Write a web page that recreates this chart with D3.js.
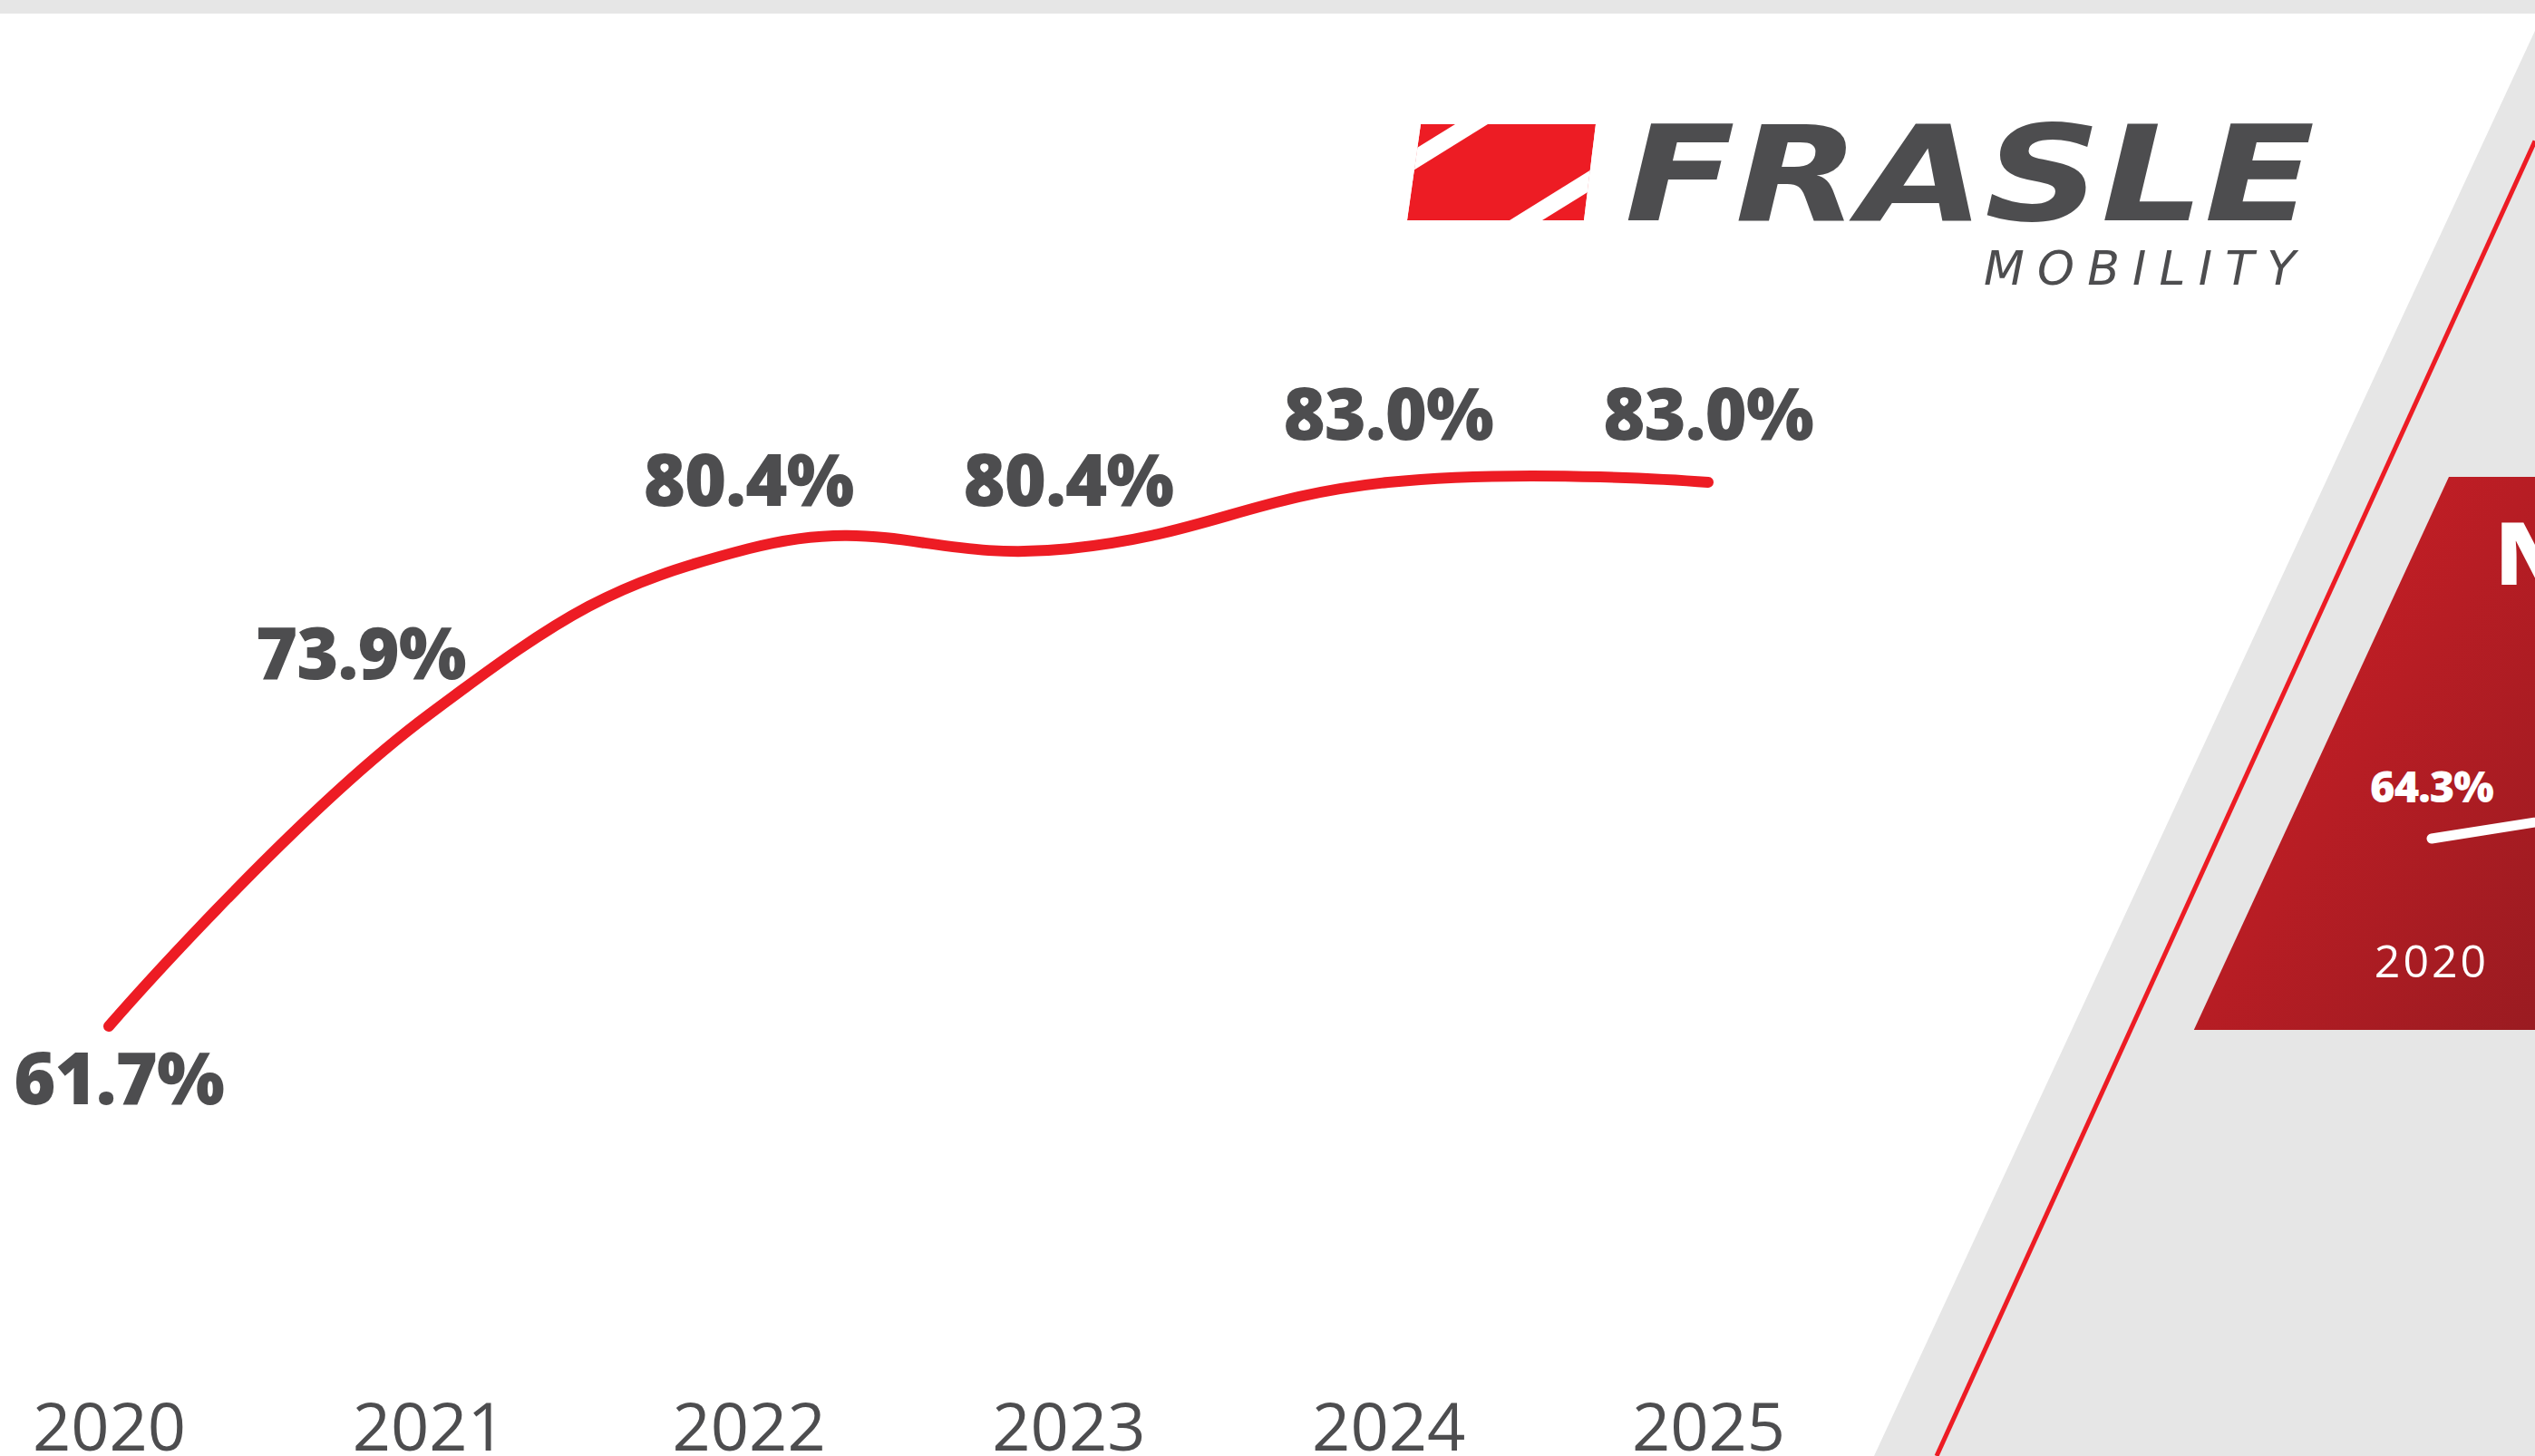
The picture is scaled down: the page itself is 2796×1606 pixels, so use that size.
<!DOCTYPE html>
<html lang="pt">
<head>
<meta charset="utf-8">
<script src="https://d3js.org/d3.v7.min.js"></script>
<style>
  * { margin: 0; padding: 0; }
  body { width: 2796px; height: 1606px; overflow: hidden; background: #fff; }
  svg { display: block; }
</style>
</head>
<body>
<script>
// main series
const years = [2020, 2021, 2022, 2023, 2024, 2025];
const values = [61.7, 73.9, 80.4, 80.4, 83.0, 83.0];

// second (cut off) panel on the right: only its first year is visible
const miniYears = [2020, 2021];
const miniValues = [64.3, 67.0];

const W = 2796, H = 1606;
const grey = '#e6e6e6', red = '#ed1c24', ink = '#4d4d4f';

const svg = d3.select('body').append('svg')
  .attr('width', W).attr('height', H);

const defs = svg.append('defs');
const grad = defs.append('linearGradient').attr('id', 'panelGrad')
  .attr('x1', '0%').attr('y1', '0%').attr('x2', '100%').attr('y2', '100%');
grad.append('stop').attr('offset', '0%').attr('stop-color', '#d41f27');
grad.append('stop').attr('offset', '100%').attr('stop-color', '#9a1b21');

svg.append('rect').attr('width', W).attr('height', H).attr('fill', '#fff');
svg.append('rect').attr('width', W).attr('height', 15).attr('fill', grey);

// diagonal grey band on the right
const slant = 0.4637;
const edgeX = y => 2067 + (H - y) * slant;
svg.append('polygon')
  .attr('points', [[edgeX(34), 34], [W, 34], [W, H], [edgeX(H), H]].join(' '))
  .attr('fill', grey);

svg.append('line')
  .attr('x1', 2136).attr('y1', H)
  .attr('x2', W).attr('y2', H - (W - 2136) / 0.455)
  .attr('stroke', red).attr('stroke-width', 5);

// red panel
const pTop = 526, pBot = 1136;
svg.append('polygon')
  .attr('points', [[2701, pTop], [W, pTop], [W, pBot], [2701 - (pBot - pTop) * 0.461, pBot]].join(' '))
  .attr('fill', 'url(#panelGrad)');

svg.append('text')
  .attr('x', 2752).attr('y', 645)
  .attr('font-family', 'Open Sans').attr('font-weight', 800).attr('font-size', 95)
  .attr('fill', '#fff').text('N');

// mini chart inside the red panel
const mx = d3.scaleLinear().domain([2020, 2021]).range([2682, 2942]);
const my = d3.scaleLinear().domain([64.3, 67.0]).range([925, 884]);
svg.append('path')
  .datum(miniValues)
  .attr('d', d3.line().x((d, i) => mx(miniYears[i])).y(d => my(d)))
  .attr('fill', 'none').attr('stroke', '#fff').attr('stroke-width', 11)
  .attr('stroke-linecap', 'round');
svg.append('text')
  .attr('x', mx(miniYears[0])).attr('y', my(miniValues[0]) - 40)
  .attr('text-anchor', 'middle')
  .attr('font-family', 'Open Sans').attr('font-weight', 800).attr('font-size', 47)
  .attr('letter-spacing', -1)
  .attr('fill', '#fff').text(miniValues[0].toFixed(1) + '%');
svg.append('text')
  .attr('x', mx(miniYears[0])).attr('y', 1078)
  .attr('text-anchor', 'middle')
  .attr('font-family', 'Open Sans').attr('font-size', 50)
  .attr('letter-spacing', 3)
  .attr('fill', '#fff').text(miniYears[0]);

// logo
const logo = svg.append('g');
const markPts = [[1567, 137], [1760, 137], [1747, 243], [1552, 243]];
defs.append('clipPath').attr('id', 'markClip')
  .append('polygon').attr('points', markPts.join(' '));
const mark = logo.append('g').attr('clip-path', 'url(#markClip)');
mark.append('polygon').attr('points', markPts.join(' ')).attr('fill', red);
const s = 0.62;
const gap = (x0, y0, w) => {
  const up = 160 / s;
  return [[x0 - 100 / s, y0 + 100], [x0 - 100 / s + w, y0 + 100], [x0 + up + w, y0 - 160], [x0 + up, y0 - 160]].join(' ');
};
mark.append('polygon').attr('points', gap(1605, 137, 36)).attr('fill', '#fff');
mark.append('polygon').attr('points', gap(1665, 243, 36)).attr('fill', '#fff');

logo.append('text')
  .attr('x', 1792).attr('y', 243)
  .attr('font-family', 'DejaVu Sans').attr('font-weight', 'bold').attr('font-style', 'italic')
  .attr('font-size', 146)
  .attr('textLength', 761).attr('lengthAdjust', 'spacingAndGlyphs')
  .attr('fill', ink).text('FRASLE');
logo.append('text')
  .attr('x', 2188).attr('y', 314)
  .attr('font-family', 'DejaVu Sans').attr('font-style', 'italic')
  .attr('font-size', 52)
  .attr('textLength', 344).attr('lengthAdjust', 'spacing')
  .attr('fill', ink).text('MOBILITY');

// main chart
const x = d3.scalePoint().domain(years).range([120, 1884]);
const y = d3.scaleLinear().domain(d3.extent(values)).range([1132, 532]);

svg.append('path')
  .datum(values)
  .attr('d', d3.line()
    .x((d, i) => x(years[i]))
    .y(d => y(d))
    .curve(d3.curveCardinal.tension(-0.3)))
  .attr('fill', 'none').attr('stroke', red).attr('stroke-width', 12)
  .attr('stroke-linecap', 'round');

// label placement: first one under the point, 2021 nudged left off the line
const labelOffset = [[11, 86], [-75, -39], [0, -47], [0, -47], [0, -47], [0, -47]];
svg.append('g').selectAll('text')
  .data(values)
  .join('text')
  .attr('x', (d, i) => x(years[i]) + labelOffset[i][0])
  .attr('y', (d, i) => y(d) + labelOffset[i][1])
  .attr('text-anchor', 'middle')
  .attr('font-family', 'Open Sans').attr('font-weight', 800).attr('font-size', 79)
  .attr('letter-spacing', -1)
  .attr('fill', ink)
  .text(d => d.toFixed(1) + '%');

const xAxis = svg.append('g')
  .attr('transform', 'translate(0,1544)')
  .call(d3.axisBottom(x).tickSize(0).tickPadding(3));
xAxis.select('.domain').remove();
xAxis.selectAll('text')
  .attr('font-family', 'Open Sans').attr('font-size', 74)
  .attr('fill', ink);
</script>
</body>
</html>
